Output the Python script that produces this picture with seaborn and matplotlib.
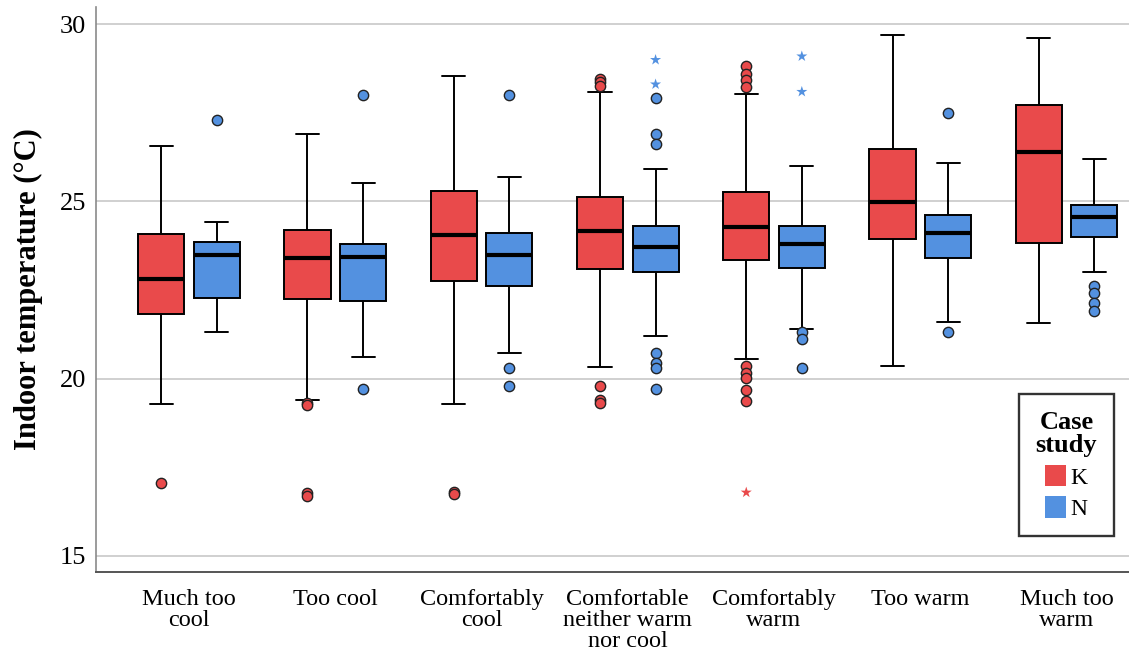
import numpy as np
import pandas as pd
import matplotlib
matplotlib.use("Agg")
import matplotlib.pyplot as plt
from matplotlib.patches import Patch
import seaborn as sns

# ---------------- data ----------------
categories = ["Much too\ncool", "Too cool", "Comfortably\ncool",
              "Comfortable\nneither warm\nnor cool", "Comfortably\nwarm",
              "Too warm", "Much too\nwarm"]
cases = ["K", "N"]

# five-number summaries: lower whisker, Q1, median, Q3, upper whisker
k_low = [19.28, 19.40, 19.27, 20.33, 20.54, 20.36, 21.58]
k_q1 = [21.82, 22.25, 22.75, 23.10, 23.35, 23.95, 23.83]
k_med = [22.80, 23.39, 24.05, 24.15, 24.27, 24.97, 26.39]
k_q3 = [24.07, 24.20, 25.29, 25.11, 25.25, 26.47, 27.71]
k_high = [26.56, 26.89, 28.53, 28.07, 28.02, 29.70, 29.61]

n_low = [21.31, 20.61, 20.71, 21.21, 21.40, 21.60, 23.00]
n_q1 = [22.26, 22.20, 22.62, 23.00, 23.12, 23.40, 24.00]
n_med = [23.50, 23.42, 23.50, 23.70, 23.80, 24.10, 24.55]
n_q3 = [23.86, 23.80, 24.11, 24.29, 24.29, 24.62, 24.89]
n_high = [24.41, 25.51, 25.69, 25.90, 26.00, 26.09, 26.18]

# outliers (circles) and extremes (stars)
k_outliers = [[17.05], [19.30, 19.25, 16.78, 16.69], [16.79, 16.75],
              [28.46, 28.36, 28.25, 19.80, 19.40, 19.32],
              [28.83, 28.58, 28.42, 28.21, 20.36, 20.15, 20.01, 19.68, 19.37],
              [], []]
n_outliers = [[27.30], [28.00, 19.70], [28.00, 20.31, 19.80],
              [27.90, 26.90, 26.61, 20.71, 20.43, 20.31, 19.70],
              [21.31, 21.11, 20.31], [27.49, 21.31], [22.61, 22.41, 22.12, 21.90]]
k_extremes = [[], [], [], [], [16.79], [], []]
n_extremes = [[], [], [], [28.99, 28.30], [29.09, 28.09], [], []]

colors = {"K": "#E94A4B", "N": "#5391E0"}

# ---------------- build samples reproducing the summaries ----------------
REP = 40
rows = []
for case, lo, q1, md, q3, hi in [("K", k_low, k_q1, k_med, k_q3, k_high),
                                 ("N", n_low, n_q1, n_med, n_q3, n_high)]:
    for i, cat in enumerate(categories):
        vals = [lo[i]] + [q1[i]] * REP + [md[i]] * REP + [q3[i]] * REP + [hi[i]]
        rows += [(cat, case, v) for v in vals]
df = pd.DataFrame(rows, columns=["rating", "case", "temp"])

# ---------------- plot ----------------
sns.set_theme(style="white")
serif = ["Liberation Serif", "DejaVu Serif"]
plt.rcParams["font.family"] = serif
plt.rcParams["text.color"] = "black"
plt.rcParams["xtick.color"] = "black"
plt.rcParams["ytick.color"] = "black"
plt.rcParams["axes.labelcolor"] = "black"

fig = plt.figure(figsize=(11.29, 6.58), dpi=100)
ax = fig.add_axes([96 / 1129, 1 - 572 / 658, 1 - 96 / 1129, (572 - 7) / 658])

WIDTH, GAP = 0.76, 0.17
sns.boxplot(data=df, x="rating", y="temp", hue="case", order=categories,
            hue_order=cases, palette=colors, width=WIDTH, gap=GAP,
            whis=(0, 100), showfliers=False, saturation=1, ax=ax,
            linecolor="black", linewidth=1.4,
            medianprops=dict(linewidth=3.0, color="black"),
            legend=False, zorder=3)

offset = WIDTH / 4
for case, outs, exts, sgn in [("K", k_outliers, k_extremes, -1),
                              ("N", n_outliers, n_extremes, 1)]:
    for i in range(len(categories)):
        if outs[i]:
            ax.scatter([i + sgn * offset] * len(outs[i]), outs[i], s=55,
                       facecolor=colors[case], edgecolor="#222222",
                       linewidth=1.0, zorder=4)
        if exts[i]:
            ax.scatter([i + sgn * offset] * len(exts[i]), exts[i], s=70,
                       marker="*", facecolor=colors[case], edgecolor="none",
                       zorder=4)

ax.set_xlim(-0.636, 6.427)
ax.set_ylim(14.546, 30.48)
ax.set_yticks([15, 20, 25, 30])
ax.set_yticklabels(["15", "20", "25", "30"])
ax.yaxis.grid(True, color="#c8c8c8", linewidth=1.2, zorder=0)
ax.xaxis.grid(False)
ax.set_axisbelow(True)
ax.tick_params(axis="y", labelsize=19, length=0, pad=7, labelcolor="black")
ax.tick_params(axis="x", labelsize=17.5, length=0, pad=12, labelcolor="black")
for lab in ax.get_xticklabels():
    lab.set_linespacing(1.0)
ax.set_xlabel("")
ax.set_ylabel("Indoor temperature (°C)", fontsize=22, fontweight="bold",
              labelpad=12, color="black")
for s in ["top", "right"]:
    ax.spines[s].set_visible(False)
ax.spines["left"].set_color("#8a8a8a")
ax.spines["left"].set_linewidth(1.2)
ax.spines["bottom"].set_color("#555555")
ax.spines["bottom"].set_linewidth(1.4)

handles = [Patch(facecolor=colors[c], edgecolor="none", label=c) for c in cases]
leg = fig.legend(handles=handles, title="Case\nstudy", loc="upper left",
                 bbox_to_anchor=(1019 / 1129, 1 - 394 / 658),
                 frameon=True, fancybox=False, fontsize=17,
                 title_fontproperties=dict(family=serif, weight="bold", size=19),
                 handlelength=0.9, handleheight=1.05, handletextpad=0.2,
                 labelspacing=0.3, borderpad=0.7, borderaxespad=0)
leg.get_frame().set_edgecolor("black")
leg.get_frame().set_linewidth(1.7)
leg.get_title().set_multialignment("center")
leg.get_title().set_linespacing(1.05)
for t in leg.get_texts():
    t.set_color("black")

fig.savefig("out.png", dpi=100)
